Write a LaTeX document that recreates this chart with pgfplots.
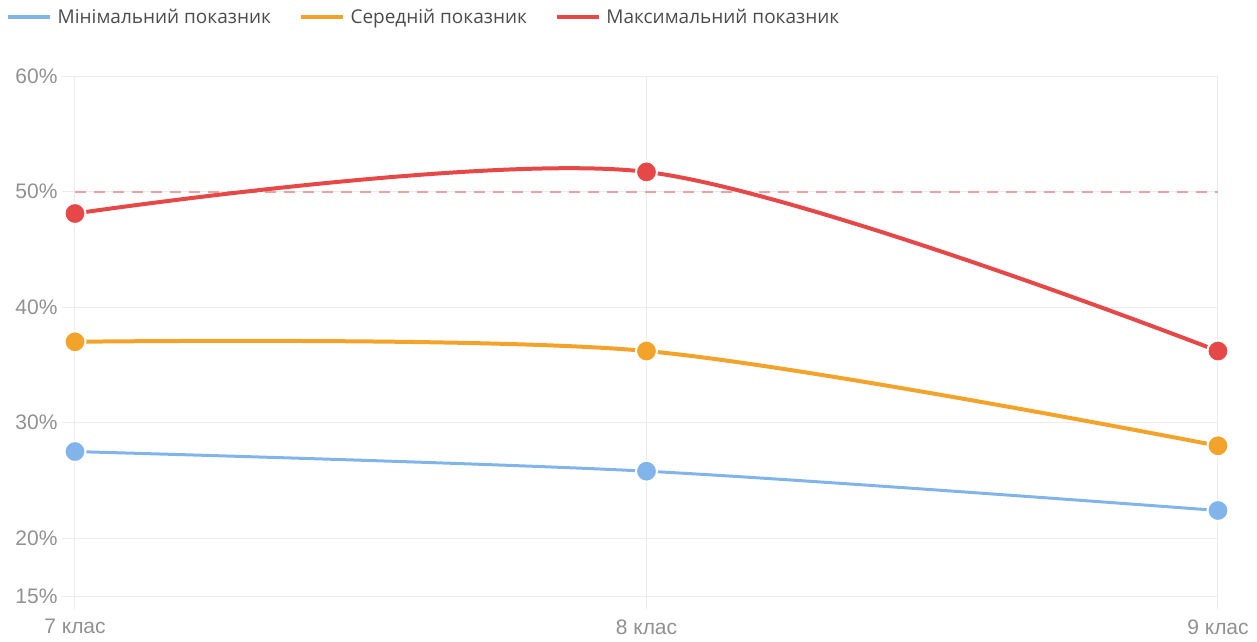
\documentclass[border=0pt]{standalone}
\usepackage{fontspec}
\setmainfont{Liberation Sans}
\newfontfamily\legendfont{Open Sans}
\usepackage{pgfplots}
\pgfplotsset{compat=1.18}

\definecolor{cmin}{RGB}{130,180,236}
\definecolor{cavg}{RGB}{244,163,42}
\definecolor{cmax}{RGB}{230,72,72}
\definecolor{cdash}{RGB}{240,160,160}
\definecolor{gridc}{RGB}{236,236,236}
\definecolor{tickc}{RGB}{145,145,145}
\definecolor{legc}{RGB}{75,75,75}

\begin{document}
\begin{tikzpicture}
\begin{axis}[
    scale only axis,
    width=1143pt, height=520pt,
    xmin=0, xmax=2,
    ymin=15, ymax=60,
    xtick={0,1,2},
    xticklabels={7 клас, 8 клас, 9 клас},
    ytick={15,20,30,40,50,60},
    yticklabel={\pgfmathprintnumber{\tick}\%},
    /pgf/number format/assume math mode=true,
    axis line style={draw=none},
    grid=major,
    major grid style={gridc, line width=1pt},
    tick style={gridc, line width=1pt},
    major tick length=13pt,
    tick align=outside,
    xtick pos=bottom, ytick pos=left,
    ticklabel style={font=\fontsize{21}{24}\selectfont, text=tickc},
    yticklabel style={xshift=-1pt},
    xticklabel style={yshift=-7pt},
    clip=false,
    legend columns=3,
    legend style={at={(0,1)}, anchor=west, xshift=-72pt, yshift=59pt,
        draw=none, fill=none, font=\legendfont\fontsize{19}{22}\selectfont, text=legc,
        /tikz/every even column/.append style={column sep=26pt},
        /tikz/every odd column/.append style={column sep=4pt}},
    legend image code/.code={\draw[line width=3.5pt] (0pt,0pt) -- (42pt,0pt);},
    every axis plot/.append style={smooth, tension=0.5, line width=4pt},
]
\addplot[cdash, line width=2pt, sharp plot, dash pattern=on 11pt off 8pt, forget plot]
    coordinates {(0,50) (2,50)};
\addplot[cmin, line width=3pt, mark=*, mark size=10.5pt,
    mark options={fill=cmin, draw=white, line width=2pt}]
    coordinates {(0,27.5) (1,25.8) (2,22.4)};
\addlegendentry{Мінімальний показник}
\addplot[cavg, mark=*, mark size=10.5pt,
    mark options={fill=cavg, draw=white, line width=2pt}]
    coordinates {(0,37.0) (1,36.2) (2,28.0)};
\addlegendentry{Середній показник}
\addplot[cmax, mark=*, mark size=10.5pt,
    mark options={fill=cmax, draw=white, line width=2pt}]
    coordinates {(0,48.1) (1,51.7) (2,36.2)};
\addlegendentry{Максимальний показник}
\end{axis}
\useasboundingbox (-75pt,-45pt) rectangle (1182pt,596pt);
\end{tikzpicture}
\end{document}
